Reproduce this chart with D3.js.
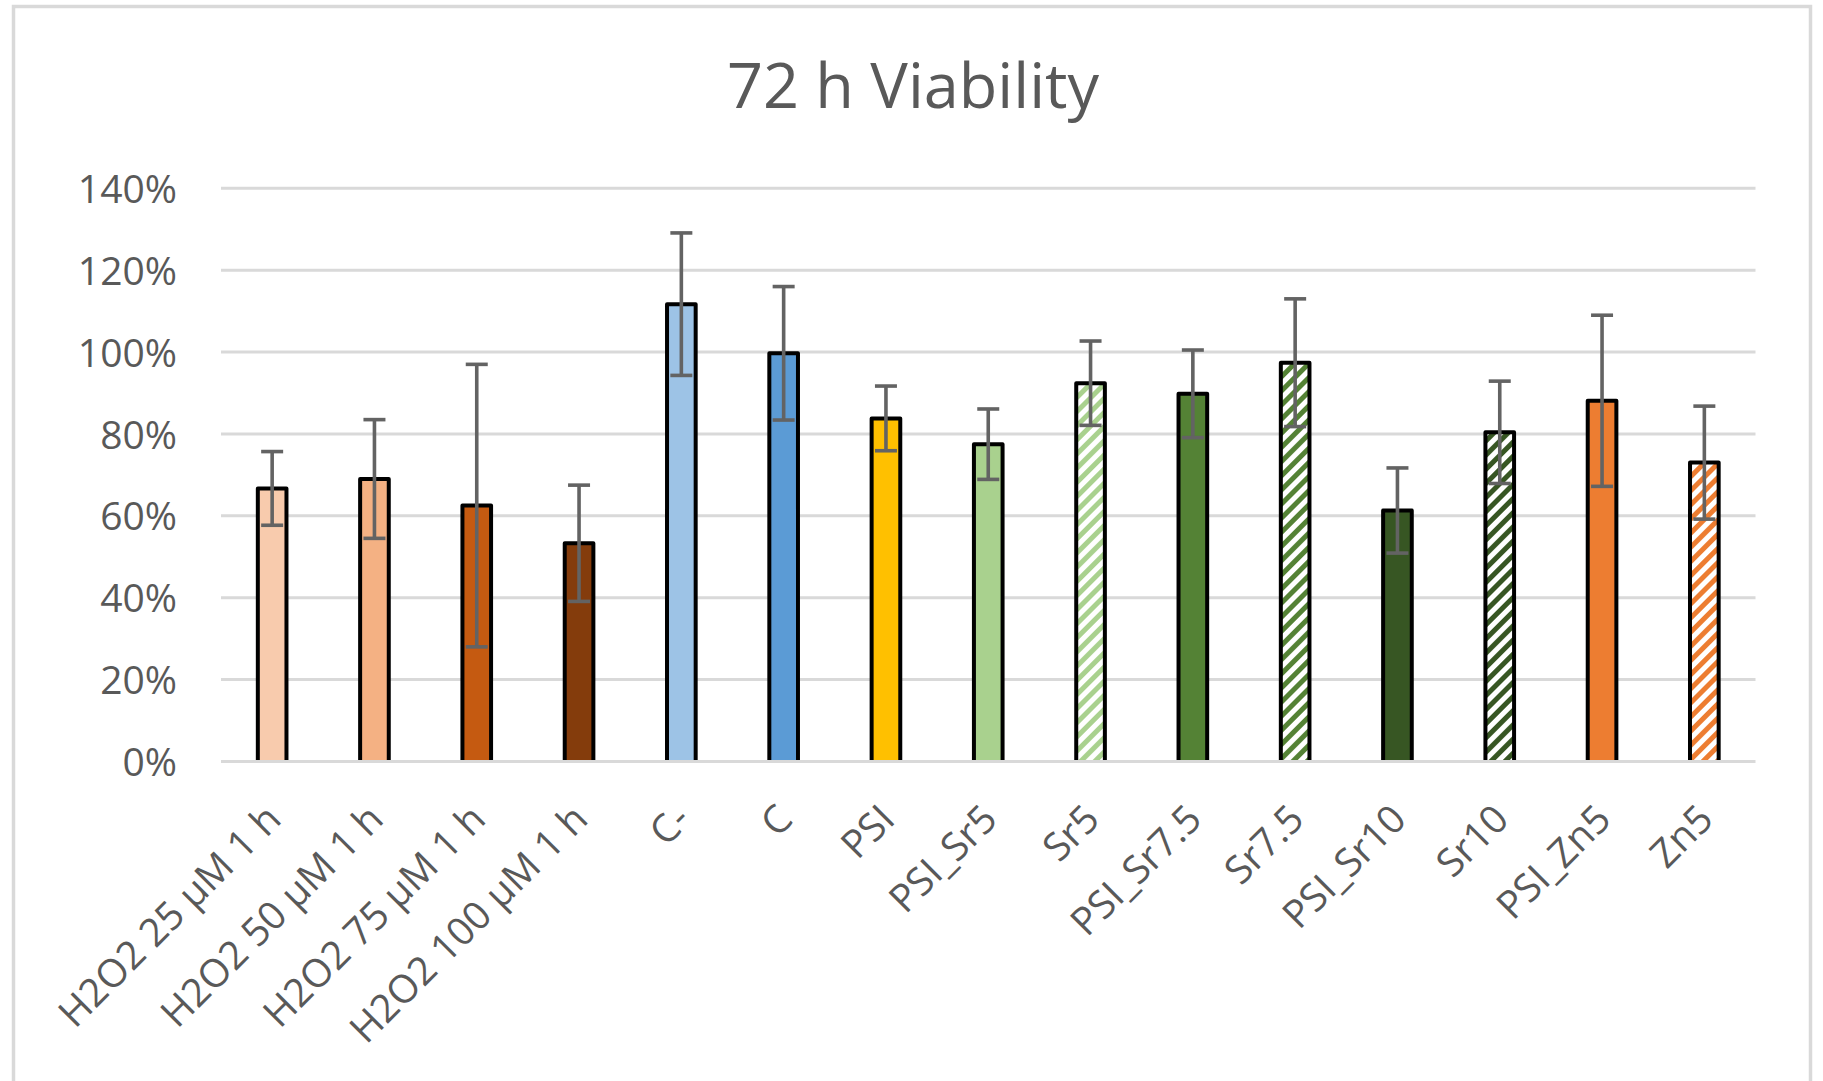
<!DOCTYPE html>
<html>
<head>
<meta charset="utf-8">
<script src="https://cdn.jsdelivr.net/npm/d3@7"></script>
<style>
  html, body { margin: 0; padding: 0; background: #ffffff; }
  svg { display: block; }
  text { font-family: "Open Sans", "DejaVu Sans", sans-serif; fill: #595959; }
</style>
</head>
<body>
<svg id="chart" width="1823" height="1081"></svg>
<script>
// ---- data ----
const title = "72 h Viability";
const categories = ["H2O2 25 µM 1 h", "H2O2 50 µM 1 h", "H2O2 75 µM 1 h", "H2O2 100 µM 1 h",
  "C-", "C", "PSI", "PSI_Sr5", "Sr5", "PSI_Sr7.5", "Sr7.5", "PSI_Sr10", "Sr10", "PSI_Zn5", "Zn5"];
const values = [66.7, 69.0, 62.5, 53.3, 111.7, 99.7, 83.8, 77.5, 92.4, 89.8, 97.4, 61.3, 80.4, 88.1, 73.0];
const errors = [9.0, 14.5, 34.5, 14.2, 17.4, 16.3, 7.9, 8.6, 10.3, 10.7, 15.6, 10.4, 12.5, 20.9, 13.8];
const yTicks = [0, 20, 40, 60, 80, 100, 120, 140];

// ---- styles ----
const fills = ["#f8cbad", "#f4b183", "#c55a11", "#843c0c", "#9dc3e6", "#5b9bd5", "#ffc000", "#a9d18e",
  "#a9d18e", "#548235", "#548235", "#375623", "#375623", "#ed7d31", "#ed7d31"];
const hatched = [false, false, false, false, false, false, false, false,
  true, false, true, false, true, false, true];

const svg = d3.select("#chart");
const W = 1823, H = 1081;
const plot = { left: 221, right: 1755.5, top: 188.3, bottom: 761.5 };

// chart border
svg.append("rect")
  .attr("x", 13.5).attr("y", 6.5)
  .attr("width", 1810.5 - 13.5).attr("height", H + 20)
  .attr("fill", "#ffffff")
  .attr("stroke", "#d9d9d9").attr("stroke-width", 3.5);

// patterns
const defs = svg.append("defs");
const hatchColors = Array.from(new Set(fills.filter((c, i) => hatched[i])));
hatchColors.forEach(c => {
  const p = defs.append("pattern")
    .attr("id", "hatch" + c.slice(1))
    .attr("patternUnits", "userSpaceOnUse")
    .attr("width", 10).attr("height", 10)
    .attr("patternTransform", "rotate(45)");
  p.append("rect").attr("width", 10).attr("height", 10).attr("fill", "#ffffff");
  p.append("rect").attr("x", 0).attr("y", 0).attr("width", 5).attr("height", 10).attr("fill", c);
});

const x = d3.scaleBand()
  .domain(categories)
  .range([plot.left, plot.right])
  .paddingInner(0.72)
  .paddingOuter(0.36);

const y = d3.scaleLinear()
  .domain([0, 140])
  .range([plot.bottom, plot.top]);

defs.append("clipPath").attr("id", "plotclip")
  .append("rect")
  .attr("x", 0).attr("y", 0)
  .attr("width", W).attr("height", y(0));

// gridlines
const grid = svg.append("g");
grid.selectAll("line")
  .data(yTicks.filter(t => t !== 0))
  .join("line")
  .attr("x1", plot.left).attr("x2", plot.right)
  .attr("y1", d => y(d)).attr("y2", d => y(d))
  .attr("stroke", "#d9d9d9").attr("stroke-width", 3);

// y axis labels via d3 axis
const yAxis = d3.axisLeft(y)
  .tickValues(yTicks)
  .tickFormat(d => d + "%")
  .tickSize(0)
  .tickPadding(0);
const yg = svg.append("g")
  .attr("transform", `translate(${177},0)`)
  .call(yAxis);
yg.select(".domain").remove();
yg.selectAll("text")
  .attr("font-size", 39)
  .attr("font-family", "'Open Sans', sans-serif")
  .attr("fill", "#595959")
  .attr("dy", "0.36em");

// bars
svg.append("g").attr("clip-path", "url(#plotclip)")
  .selectAll("rect")
  .data(categories)
  .join("rect")
  .attr("x", d => x(d))
  .attr("width", x.bandwidth())
  .attr("y", (d, i) => y(values[i]))
  .attr("height", (d, i) => y(0) - y(values[i]) + 4)
  .attr("fill", (d, i) => hatched[i] ? `url(#hatch${fills[i].slice(1)})` : fills[i])
  .attr("stroke", "#000000")
  .attr("stroke-width", 4)
  .attr("stroke-linejoin", "round");

// baseline (0%)
svg.append("line")
  .attr("x1", plot.left).attr("x2", plot.right)
  .attr("y1", y(0)).attr("y2", y(0))
  .attr("stroke", "#d9d9d9").attr("stroke-width", 3);

// error bars
const eg = svg.append("g").attr("stroke", "#636363").attr("stroke-width", 3.6);
const cap = 11;
categories.forEach((c, i) => {
  const cx = x(c) + x.bandwidth() / 2;
  const hi = y(values[i] + errors[i]);
  const lo = y(values[i] - errors[i]);
  eg.append("line").attr("x1", cx).attr("x2", cx).attr("y1", hi).attr("y2", lo);
  eg.append("line").attr("x1", cx - cap).attr("x2", cx + cap).attr("y1", hi).attr("y2", hi);
  eg.append("line").attr("x1", cx - cap).attr("x2", cx + cap).attr("y1", lo).attr("y2", lo);
});

// x labels
svg.append("g").selectAll("text")
  .data(categories)
  .join("text")
  .attr("transform", d => `translate(${x(d) + x.bandwidth() / 2 + 1},${plot.bottom + 50}) rotate(-45)`)
  .attr("text-anchor", "end")
  .attr("dy", "0.36em")
  .attr("font-size", 39)
  .text(d => d);

// title
svg.append("text")
  .attr("x", 913).attr("y", 108)
  .attr("text-anchor", "middle")
  .attr("font-size", 63)
  .text(title);
</script>
</body>
</html>
